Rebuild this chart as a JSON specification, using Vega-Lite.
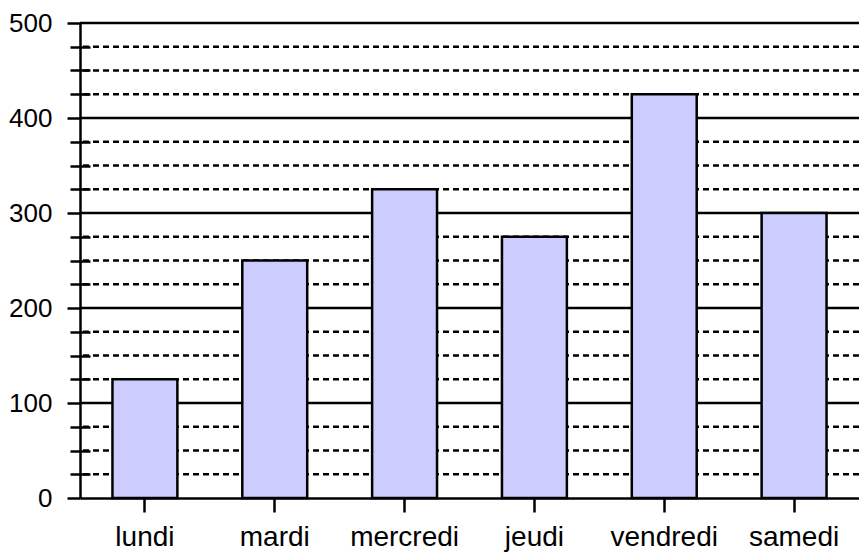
{
  "$schema": "https://vega.github.io/schema/vega-lite/v6.json",
  "width": 779,
  "height": 475,
  "autosize": {"type": "none"},
  "padding": {"left": 80, "top": 23, "right": 0, "bottom": 56},
  "config": {
    "view": {"stroke": null},
    "font": "Liberation Sans"
  },
  "datasets": {
    "bars": [
      {"jour": "lundi", "valeur": 125},
      {"jour": "mardi", "valeur": 250},
      {"jour": "mercredi", "valeur": 325},
      {"jour": "jeudi", "valeur": 275},
      {"jour": "vendredi", "valeur": 425},
      {"jour": "samedi", "valeur": 300}
    ],
    "minor": [
      {"v": 25}, {"v": 50}, {"v": 75},
      {"v": 125}, {"v": 150}, {"v": 175},
      {"v": 225}, {"v": 250}, {"v": 275},
      {"v": 325}, {"v": 350}, {"v": 375},
      {"v": 425}, {"v": 450}, {"v": 475}
    ],
    "major": [
      {"v": 100}, {"v": 200}, {"v": 300}, {"v": 400}, {"v": 500}
    ]
  },
  "layer": [
    {
      "data": {"name": "minor"},
      "mark": {"type": "rule", "color": "black", "strokeWidth": 2.5, "strokeDash": [6, 4]},
      "encoding": {
        "y": {
          "field": "v",
          "type": "quantitative",
          "scale": {"domain": [0, 500], "nice": false, "zero": true},
          "axis": {
            "orient": "left",
            "offset": -10,
            "values": [25, 50, 75, 125, 150, 175, 225, 250, 275, 325, 350, 375, 425, 450, 475],
            "tickSize": 20,
            "tickWidth": 2.5,
            "tickColor": "black",
            "labels": false,
            "domain": false,
            "grid": false,
            "title": null
          }
        }
      }
    },
    {
      "data": {"name": "major"},
      "mark": {"type": "rule", "color": "black", "strokeWidth": 2.5},
      "encoding": {
        "y": {"field": "v", "type": "quantitative", "axis": null}
      }
    },
    {
      "data": {"name": "bars"},
      "mark": {"type": "bar", "fill": "#ccccff", "stroke": "black", "strokeWidth": 2.5},
      "encoding": {
        "x": {
          "field": "jour",
          "type": "nominal",
          "sort": null,
          "scale": {"paddingInner": 0.5, "paddingOuter": 0.25},
          "axis": {
            "title": null,
            "labelAngle": 0,
            "labelFontSize": 28,
            "labelColor": "black",
            "labelPadding": 11,
            "tickSize": 14,
            "tickWidth": 2.5,
            "tickColor": "black",
            "domainColor": "black",
            "domainWidth": 2.5,
            "grid": false
          }
        },
        "y": {
          "field": "valeur",
          "type": "quantitative",
          "axis": {
            "orient": "left",
            "values": [0, 100, 200, 300, 400, 500],
            "tickSize": 13,
            "tickWidth": 2.5,
            "tickColor": "black",
            "domainColor": "black",
            "domainWidth": 2.5,
            "labelFontSize": 26,
            "labelColor": "black",
            "labelPadding": 15,
            "grid": false,
            "title": null
          }
        }
      }
    }
  ],
  "resolve": {"axis": {"y": "independent"}}
}
